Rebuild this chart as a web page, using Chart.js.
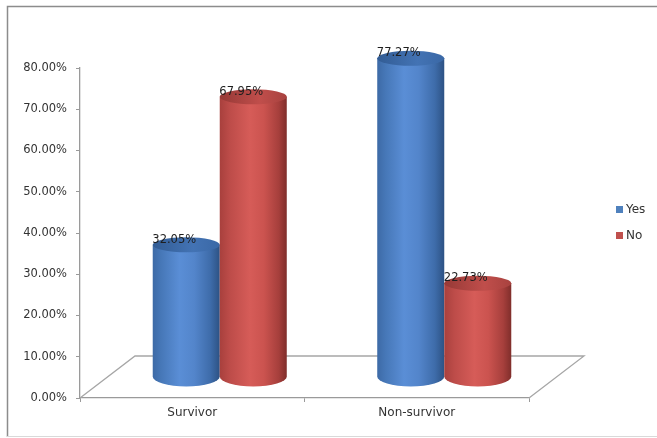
<!DOCTYPE html>
<html>
<head>
<meta charset="utf-8">
<script src="https://cdn.jsdelivr.net/npm/chart.js@4/dist/chart.umd.min.js"></script>
<style>
  html, body { margin: 0; padding: 0; background: #ffffff; }
  #wrap { width: 657px; height: 438px; position: relative; }
</style>
</head>
<body>
<div id="wrap"><canvas id="c" width="657" height="438"></canvas></div>
<script>
// Outcome groups and the share of patients in each answer group (percent)
const categories = ['Survivor', 'Non-survivor'];
const seriesNames = ['Yes', 'No'];
const yesValues = [32.05, 77.27];
const noValues = [67.95, 22.73];
const seriesColors = ['#4f81bd', '#c0504d'];

// 3D depth offset of the floor (back edge relative to the front edge)
const DEPTH_X = 55;
const DEPTH_Y = -42;
const FONT = '"DejaVu Sans", Verdana, sans-serif';

const palettes = {
  '#4f81bd': {
    body: [[0, '#3d6aa6'], [0.12, '#4677b7'], [0.4, '#5a8ed6'], [0.62, '#5385cb'], [0.86, '#3e6caa'], [1, '#2d5284']],
    top: [[0, '#325c94'], [0.6, '#4373b4'], [1, '#3a68a6']]
  },
  '#c0504d': {
    body: [[0, '#a8403d'], [0.15, '#bd4c49'], [0.45, '#d65c58'], [0.66, '#cb534f'], [0.88, '#a63f3c'], [1, '#802e2b']],
    top: [[0, '#963936'], [0.6, '#c04e4b'], [1, '#a8423f']]
  }
};

function gradient(ctx, x0, x1, stops) {
  const g = ctx.createLinearGradient(x0, 0, x1, 0);
  stops.forEach(s => g.addColorStop(s[0], s[1]));
  return g;
}

function drawCylinder(ctx, cx, topY, botY, w, pal) {
  const rx = w / 2, ryTop = 7.5, ryBot = 10;
  ctx.save();
  ctx.beginPath();
  ctx.moveTo(cx - rx, topY);
  ctx.lineTo(cx - rx, botY);
  ctx.ellipse(cx, botY, rx, ryBot, 0, Math.PI, 0, true);
  ctx.lineTo(cx + rx, topY);
  ctx.closePath();
  ctx.fillStyle = gradient(ctx, cx - rx, cx + rx, pal.body);
  ctx.fill();
  ctx.beginPath();
  ctx.ellipse(cx, topY, rx, ryTop, 0, 0, Math.PI * 2);
  ctx.fillStyle = gradient(ctx, cx - rx, cx + rx, pal.top);
  ctx.fill();
  ctx.restore();
}

const cylinderPlugin = {
  id: 'cylinders',
  beforeDraw(chart) {
    const ctx = chart.ctx;
    ctx.save();
    ctx.strokeStyle = '#8c8c8c';
    ctx.lineWidth = 1.5;
    ctx.beginPath();
    ctx.moveTo(7.5, 437);
    ctx.lineTo(7.5, 6.5);
    ctx.lineTo(657, 6.5);
    ctx.stroke();
    ctx.strokeStyle = '#d9d9d9';
    ctx.lineWidth = 1;
    ctx.beginPath();
    ctx.moveTo(7, 436.5);
    ctx.lineTo(657, 436.5);
    ctx.stroke();
    ctx.restore();
  },
  beforeDatasetsDraw(chart) {
    const {ctx, chartArea: a} = chart;
    ctx.save();
    ctx.strokeStyle = '#a6a6a6';
    ctx.lineWidth = 1.3;
    ctx.beginPath();
    ctx.moveTo(a.left, a.bottom);
    ctx.lineTo(a.left + DEPTH_X, a.bottom + DEPTH_Y);
    ctx.lineTo(a.right + DEPTH_X, a.bottom + DEPTH_Y);
    ctx.lineTo(a.right, a.bottom);
    ctx.stroke();
    ctx.restore();
  },
  beforeDatasetDraw() {
    return false;
  },
  afterDatasetsDraw(chart) {
    const ctx = chart.ctx;
    const labels = [];
    chart.data.datasets.forEach((ds, i) => {
      const meta = chart.getDatasetMeta(i);
      const pal = palettes[ds.backgroundColor];
      meta.data.forEach((el, j) => {
        const cx = el.x + DEPTH_X / 2;
        const top = el.y + DEPTH_Y / 2;
        const bot = el.base + DEPTH_Y / 2;
        drawCylinder(ctx, cx, top, bot, el.width, pal);
        labels.push([ds.data[j].toFixed(2) + '%', cx - 12, top - 5]);
      });
    });
    ctx.save();
    ctx.font = '11.5px ' + FONT;
    ctx.fillStyle = '#1e1e1e';
    ctx.textAlign = 'center';
    ctx.textBaseline = 'middle';
    labels.forEach(l => ctx.fillText(l[0], l[1], l[2]));
    ctx.restore();
  },
  afterDraw(chart) {
    const ctx = chart.ctx;
    ctx.save();
    ctx.font = '12px ' + FONT;
    ctx.textBaseline = 'middle';
    ctx.textAlign = 'left';
    chart.data.datasets.forEach((ds, i) => {
      const y = 209.5 + i * 26;
      ctx.fillStyle = ds.backgroundColor;
      ctx.fillRect(616, y - 3.5, 7, 7);
      ctx.fillStyle = '#333333';
      ctx.fillText(ds.label, 626, y);
    });
    ctx.restore();
  }
};

new Chart(document.getElementById('c'), {
  type: 'bar',
  data: {
    labels: categories,
    datasets: [
      { label: seriesNames[0], data: yesValues, backgroundColor: seriesColors[0] },
      { label: seriesNames[1], data: noValues, backgroundColor: seriesColors[1] }
    ]
  },
  options: {
    responsive: false,
    animation: false,
    devicePixelRatio: 1,
    layout: { padding: { left: 0, top: 68, right: 128, bottom: 0 } },
    datasets: { bar: { barPercentage: 1, categoryPercentage: 0.597 } },
    plugins: { legend: { display: false }, tooltip: { enabled: false } },
    scales: {
      x: {
        afterFit(s) { s.height = 40; },
        grid: { offset: true, drawOnChartArea: false, tickLength: 4, color: '#9a9a9a' },
        border: { color: '#9a9a9a', width: 1.3 },
        ticks: { padding: 4, color: '#333333', font: { family: FONT, size: 12 } }
      },
      y: {
        min: 0,
        max: 80,
        afterFit(s) { s.width = 80; },
        grid: { drawOnChartArea: false, tickLength: 4, color: '#9a9a9a' },
        border: { color: '#9a9a9a', width: 1.3 },
        ticks: {
          stepSize: 10,
          padding: 9,
          color: '#333333',
          font: { family: FONT, size: 11.5 },
          callback: v => v.toFixed(2) + '%'
        }
      }
    }
  },
  plugins: [cylinderPlugin]
});
</script>
</body>
</html>
